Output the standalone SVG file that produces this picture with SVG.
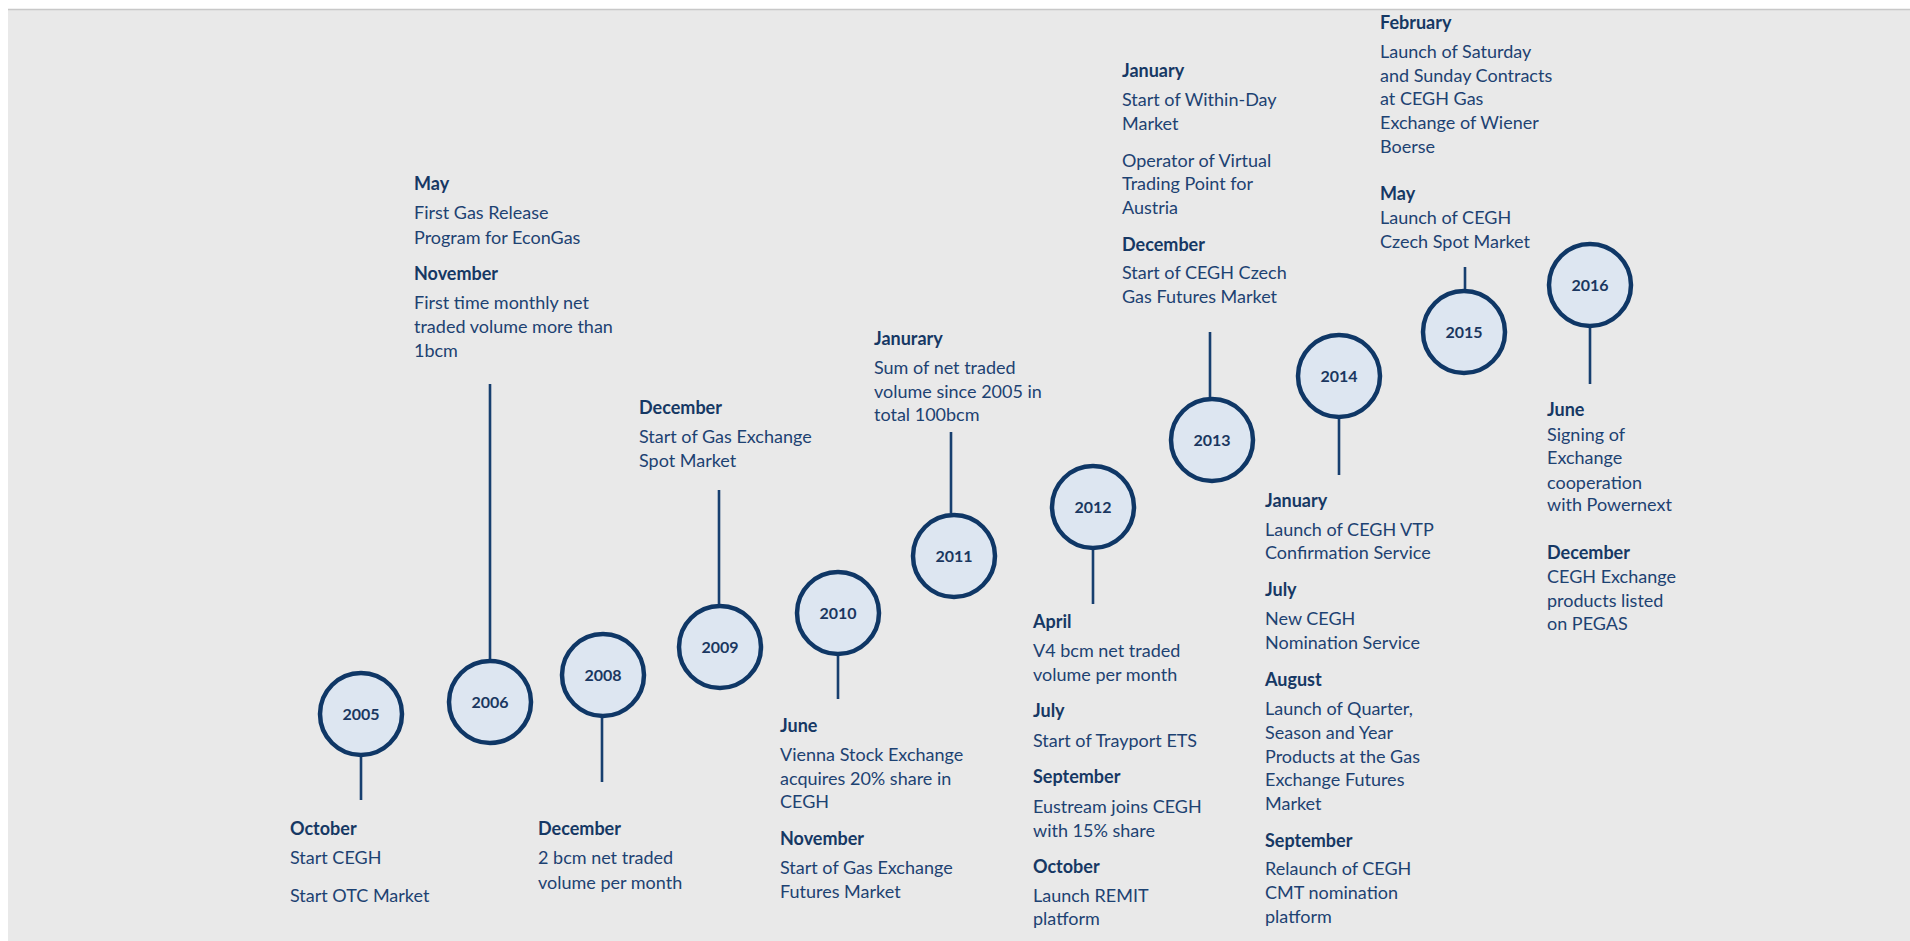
<svg xmlns="http://www.w3.org/2000/svg" width="1910" height="941" viewBox="0 0 1910 941">
<style>
.bg{fill:#e9e9e9}
.yr{fill:#dde6f1;stroke:#0f3766;stroke-width:4.5}
.yl{font-family:Lato,"Liberation Sans",sans-serif;font-weight:700;font-size:16px;fill:#1a3760;text-anchor:middle}
.stem{stroke:#173f6f;stroke-width:2.6;fill:none}
.m{font-family:Lato,"Liberation Sans",sans-serif;font-weight:700;font-size:18px;fill:#163864}
.t{font-family:Lato,"Liberation Sans",sans-serif;font-weight:400;font-size:18px;fill:#1d4272}
</style>
<rect x="0" y="0" width="1910" height="941" fill="#ffffff"/>
<rect class="bg" x="8" y="10" width="1902" height="931"/>
<line x1="8" y1="9.5" x2="1910" y2="9.5" stroke="#c8c8c8" stroke-width="1.5"/>

<g id="connectors">
<line class="stem" x1="361" y1="757" x2="361" y2="800"/>
<line class="stem" x1="490" y1="384" x2="490" y2="659"/>
<line class="stem" x1="602" y1="717" x2="602" y2="782"/>
<line class="stem" x1="719" y1="490" x2="719" y2="604"/>
<line class="stem" x1="838" y1="656" x2="838" y2="699"/>
<line class="stem" x1="951" y1="432" x2="951" y2="513"/>
<line class="stem" x1="1093" y1="550" x2="1093" y2="604"/>
<line class="stem" x1="1210" y1="332" x2="1210" y2="397"/>
<line class="stem" x1="1339" y1="419" x2="1339" y2="475"/>
<line class="stem" x1="1465" y1="267" x2="1465" y2="289"/>
<line class="stem" x1="1590" y1="327" x2="1590" y2="384"/>
</g>

<g id="y2005">
<circle class="yr" cx="361" cy="714" r="41"/>
<text class="yl" x="361" y="720">2005</text>
<text class="m" x="290" y="835">October</text>
<text class="t" x="290" y="864">Start CEGH</text>
<text class="t" x="290" y="902">Start OTC Market</text>
</g>

<g id="y2006">
<circle class="yr" cx="490" cy="702" r="41"/>
<text class="yl" x="490" y="708">2006</text>
<text class="m" x="414" y="190">May</text>
<text class="t" x="414" y="219">First Gas Release</text>
<text class="t" x="414" y="244">Program for EconGas</text>
<text class="m" x="414" y="280">November</text>
<text class="t" x="414" y="309">First time monthly net</text>
<text class="t" x="414" y="333">traded volume more than</text>
<text class="t" x="414" y="357">1bcm</text>
</g>

<g id="y2008">
<circle class="yr" cx="603" cy="675" r="41"/>
<text class="yl" x="603" y="681">2008</text>
<text class="m" x="538" y="835">December</text>
<text class="t" x="538" y="864">2 bcm net traded</text>
<text class="t" x="538" y="889">volume per month</text>
</g>

<g id="y2009">
<circle class="yr" cx="720" cy="647" r="41"/>
<text class="yl" x="720" y="653">2009</text>
<text class="m" x="639" y="414">December</text>
<text class="t" x="639" y="443">Start of Gas Exchange</text>
<text class="t" x="639" y="467">Spot Market</text>
</g>

<g id="y2010">
<circle class="yr" cx="838" cy="613" r="41"/>
<text class="yl" x="838" y="619">2010</text>
<text class="m" x="780" y="732">June</text>
<text class="t" x="780" y="761">Vienna Stock Exchange</text>
<text class="t" x="780" y="785">acquires 20% share in</text>
<text class="t" x="780" y="808">CEGH</text>
<text class="m" x="780" y="845">November</text>
<text class="t" x="780" y="874">Start of Gas Exchange</text>
<text class="t" x="780" y="898">Futures Market</text>
</g>

<g id="y2011">
<circle class="yr" cx="954" cy="556" r="41"/>
<text class="yl" x="954" y="562">2011</text>
<text class="m" x="874" y="345">Janurary</text>
<text class="t" x="874" y="374">Sum of net traded</text>
<text class="t" x="874" y="398">volume since 2005 in</text>
<text class="t" x="874" y="421">total 100bcm</text>
</g>

<g id="y2012">
<circle class="yr" cx="1093" cy="507" r="41"/>
<text class="yl" x="1093" y="513">2012</text>
<text class="m" x="1033" y="628">April</text>
<text class="t" x="1033" y="657">V4 bcm net traded</text>
<text class="t" x="1033" y="681">volume per month</text>
<text class="m" x="1033" y="717">July</text>
<text class="t" x="1033" y="747">Start of Trayport ETS</text>
<text class="m" x="1033" y="783">September</text>
<text class="t" x="1033" y="813">Eustream joins CEGH</text>
<text class="t" x="1033" y="837">with 15% share</text>
<text class="m" x="1033" y="873">October</text>
<text class="t" x="1033" y="902">Launch REMIT</text>
<text class="t" x="1033" y="925">platform</text>
</g>

<g id="y2013">
<circle class="yr" cx="1212" cy="440" r="41"/>
<text class="yl" x="1212" y="446">2013</text>
<text class="m" x="1122" y="77">January</text>
<text class="t" x="1122" y="106">Start of Within-Day</text>
<text class="t" x="1122" y="130">Market</text>
<text class="t" x="1122" y="167">Operator of Virtual</text>
<text class="t" x="1122" y="190">Trading Point for</text>
<text class="t" x="1122" y="214">Austria</text>
<text class="m" x="1122" y="251">December</text>
<text class="t" x="1122" y="279">Start of CEGH Czech</text>
<text class="t" x="1122" y="303">Gas Futures Market</text>
</g>

<g id="y2014">
<circle class="yr" cx="1339" cy="376" r="41"/>
<text class="yl" x="1339" y="382">2014</text>
<text class="m" x="1265" y="507">January</text>
<text class="t" x="1265" y="536">Launch of CEGH VTP</text>
<text class="t" x="1265" y="559">Confirmation Service</text>
<text class="m" x="1265" y="596">July</text>
<text class="t" x="1265" y="625">New CEGH</text>
<text class="t" x="1265" y="649">Nomination Service</text>
<text class="m" x="1265" y="686">August</text>
<text class="t" x="1265" y="715">Launch of Quarter,</text>
<text class="t" x="1265" y="739">Season and Year</text>
<text class="t" x="1265" y="763">Products at the Gas</text>
<text class="t" x="1265" y="786">Exchange Futures</text>
<text class="t" x="1265" y="810">Market</text>
<text class="m" x="1265" y="847">September</text>
<text class="t" x="1265" y="875">Relaunch of CEGH</text>
<text class="t" x="1265" y="899">CMT nomination</text>
<text class="t" x="1265" y="923">platform</text>
</g>

<g id="y2015">
<circle class="yr" cx="1464" cy="332" r="41"/>
<text class="yl" x="1464" y="338">2015</text>
<text class="m" x="1380" y="29">February</text>
<text class="t" x="1380" y="58">Launch of Saturday</text>
<text class="t" x="1380" y="82">and Sunday Contracts</text>
<text class="t" x="1380" y="105">at CEGH Gas</text>
<text class="t" x="1380" y="129">Exchange of Wiener</text>
<text class="t" x="1380" y="153">Boerse</text>
<text class="m" x="1380" y="200">May</text>
<text class="t" x="1380" y="224">Launch of CEGH</text>
<text class="t" x="1380" y="248">Czech Spot Market</text>
</g>

<g id="y2016">
<circle class="yr" cx="1590" cy="285" r="41"/>
<text class="yl" x="1590" y="291">2016</text>
<text class="m" x="1547" y="416">June</text>
<text class="t" x="1547" y="441">Signing of</text>
<text class="t" x="1547" y="464">Exchange</text>
<text class="t" x="1547" y="489">cooperation</text>
<text class="t" x="1547" y="511">with Powernext</text>
<text class="m" x="1547" y="559">December</text>
<text class="t" x="1547" y="583">CEGH Exchange</text>
<text class="t" x="1547" y="607">products listed</text>
<text class="t" x="1547" y="630">on PEGAS</text>
</g>
</svg>
